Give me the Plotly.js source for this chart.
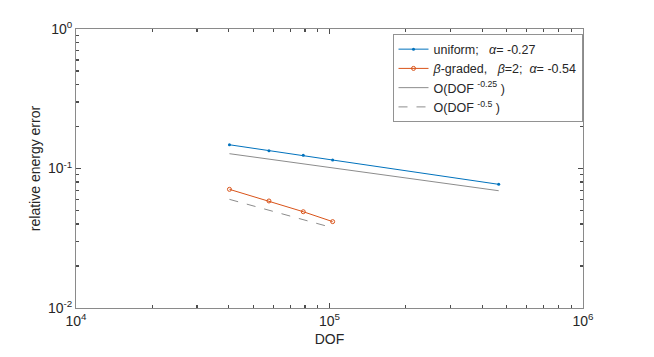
<!DOCTYPE html>
<html>
<head>
<meta charset="utf-8">
<script src="https://cdn.plot.ly/plotly-3.0.1.min.js"></script>
<style>
    html, body { margin: 0; padding: 0; background: #ffffff; }
    #graph { width: 654px; height: 357px; }
</style>
</head>
<body>
<div id="graph"></div>
<script>
    // Données (DOF et erreur d'énergie relative)
    var dof_uniforme = [40300, 57700, 78800, 102900, 465000];
    var erreur_uniforme = [0.148, 0.134, 0.1243, 0.115, 0.077];

    var dof_gradue = [40300, 57700, 78800, 102900];
    var erreur_gradue = [0.0709, 0.0585, 0.049, 0.0416];

    // Droites de référence O(DOF^-0.25) et O(DOF^-0.5)
    var dof_ref1 = [40300, 465000];
    var ref1 = [0.1277, 0.0693];
    var dof_ref2 = [40300, 102900];
    var ref2 = [0.0601, 0.0376];

    // Étiquettes des graduations
    var ticks_x = [1e4, 1e5, 1e6];
    var labels_x = ['10<sup>4</sup>', '10<sup>5</sup>', '10<sup>6</sup>'];
    var ticks_y = [1e-2, 1e-1, 1];
    var labels_y = ['10<sup>-2</sup>', '10<sup>-1</sup>', '10<sup>0</sup>'];
    var mineurs_x = [2e4, 3e4, 4e4, 5e4, 6e4, 7e4, 8e4, 9e4, 2e5, 3e5, 4e5, 5e5, 6e5, 7e5, 8e5, 9e5];
    var mineurs_y = [0.02, 0.03, 0.04, 0.05, 0.06, 0.07, 0.08, 0.09, 0.2, 0.3, 0.4, 0.5, 0.6, 0.7, 0.8, 0.9];

    var couleur_texte = '#262626';
    var couleur_axe = '#4d4d4d';
    var police = 'Liberation Sans, Arial, sans-serif';

    var trace1 = {
        x: dof_uniforme, y: erreur_uniforme,
        mode: 'lines+markers',
        name: 'uniform;   <i>α</i>= -0.27',
        line: { color: '#0072BD', width: 1 },
        marker: { color: '#0072BD', size: 3, symbol: 'circle' }
    };
    var trace2 = {
        x: dof_gradue, y: erreur_gradue,
        mode: 'lines+markers',
        name: '<i>β</i>-graded,   <i>β</i>=2;  <i>α</i>= -0.54',
        line: { color: '#D95319', width: 1 },
        marker: { color: '#D95319', size: 4, symbol: 'circle-open', line: { width: 1 } }
    };
    var trace3 = {
        x: dof_ref1, y: ref1,
        mode: 'lines',
        name: 'O(DOF <sup>-0.25</sup> )',
        line: { color: '#8c8c8c', width: 1 }
    };
    var trace4 = {
        x: dof_ref2, y: ref2,
        mode: 'lines',
        name: 'O(DOF <sup>-0.5</sup> )',
        line: { color: '#8c8c8c', width: 1, dash: 'dash' }
    };

    // Grille transparente : les graduations restent dessinées
    var axe_commun = {
        type: 'log',
        showgrid: true,
        gridcolor: 'rgba(0,0,0,0)',
        showline: true,
        linecolor: '#8a8a8a',
        mirror: 'ticks',
        ticks: 'inside',
        ticklen: 5,
        tickcolor: couleur_axe,
        tickwidth: 1.2,
        tickmode: 'array',
        tickfont: { family: police, size: 14, color: couleur_texte }
    };

    var layout = {
        width: 654,
        height: 357,
        margin: { l: 76, r: 71, t: 29, b: 49 },
        font: { family: police, size: 13, color: couleur_texte },
        showlegend: true,
        xaxis: Object.assign({}, axe_commun, {
            range: [4, 6],
            tickvals: ticks_x,
            ticktext: labels_x,
            minor: { tickmode: 'array', tickvals: mineurs_x, ticks: 'inside', ticklen: 3, tickcolor: couleur_axe, tickwidth: 1.2 },
            title: { text: 'DOF', font: { family: police, size: 14, color: couleur_texte }, standoff: 6 }
        }),
        yaxis: Object.assign({}, axe_commun, {
            range: [-2, 0],
            tickvals: ticks_y,
            ticktext: labels_y,
            minor: { tickmode: 'array', tickvals: mineurs_y, ticks: 'inside', ticklen: 3, tickcolor: couleur_axe, tickwidth: 1.2 },
            title: { text: 'relative energy error', font: { family: police, size: 14, color: couleur_texte }, standoff: 4 }
        }),
        legend: {
            x: 1, xanchor: 'right',
            y: 0.982, yanchor: 'top',
            bgcolor: '#ffffff',
            bordercolor: couleur_texte,
            borderwidth: 0.5,
            itemwidth: 30,
            tracegroupgap: 0,
            font: { family: police, size: 12.5, color: couleur_texte }
        }
    };

    Plotly.newPlot('graph', [trace1, trace2, trace3, trace4], layout, { staticPlot: true });
</script>
</body>
</html>
